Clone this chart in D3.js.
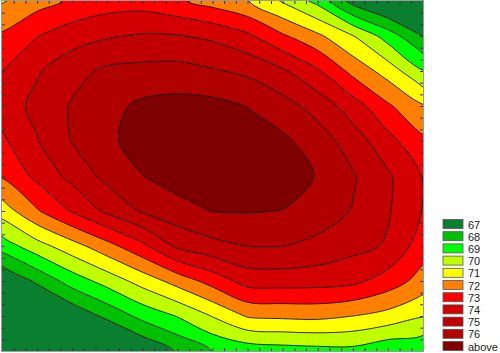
<!DOCTYPE html>
<html>
<head>
<meta charset="utf-8">
<script src="https://cdn.jsdelivr.net/npm/d3@7"></script>
<style>
body { margin: 0; background: #fff; }
svg { display: block; }
text { font-family: "Liberation Sans", Arial, sans-serif; font-size: 11px; fill: #222; }
</style>
</head>
<body>
<svg width="500" height="353"></svg>
<script>
// contour levels and legend
var levels = [67, 68, 69, 70, 71, 72, 73, 74, 75, 76];
var labels = ["67", "68", "69", "70", "71", "72", "73", "74", "75", "76", "above"];
var colors = ["#0a7f30", "#00c000", "#00ff00", "#c0ff00", "#ffff00", "#ff8000",
              "#ff0000", "#d20000", "#c00000", "#b10000", "#7f0000"];

// surface values, 13 columns x 11 rows (top row first)
var nx = 13, ny = 11;
var row0  = [70.9, 71.6, 72.15, 72.5, 72.55, 72.15, 71.6, 71.05, 69.9, 68.7, 66.6, 65.5, 64.5];
var row1  = [72.15, 72.97, 73.55, 73.9, 74.1, 74.07, 73.8, 73.2, 72.15, 71.2, 70.05, 68.55, 66.95];
var row2  = [72.98, 73.9, 74.65, 75.2, 75.3, 75.35, 75.1, 74.8, 74.15, 73.15, 71.7, 70.57, 69.05];
var row3  = [73.5, 74.25, 75.1, 75.7, 76.2, 76.35, 76.3, 75.97, 75.4, 74.6, 73.5, 72.15, 71.1];
var row4  = [72.8, 73.95, 75.05, 75.8, 76.4, 76.6, 76.65, 76.5, 76.2, 75.5, 74.5, 73.35, 72.2];
var row5  = [72.1, 73.25, 74.3, 75.3, 75.98, 76.45, 76.6, 76.55, 76.4, 75.95, 75.1, 74.15, 72.95];
var row6  = [70.45, 71.9, 73.1, 74.2, 75.1, 75.6, 76.02, 76.05, 75.98, 75.5, 74.95, 74.1, 72.95];
var row7  = [68.45, 69.6, 70.6, 71.65, 72.77, 74.2, 74.7, 75.02, 75.02, 74.75, 74.3, 73.9, 72.45];
var row8  = [65.9, 67.2, 68.45, 69.4, 70.4, 71.4, 72.4, 73.4, 73.45, 73.4, 73.25, 72.55, 71.6];
var row9  = [64.0, 65.0, 66.2, 67.25, 68.3, 69.05, 70.05, 71.1, 71.2, 71.25, 71.0, 70.65, 70.05];
var row10 = [61.5, 62.5, 63.75, 64.95, 66.05, 67.1, 68.02, 68.4, 68.55, 68.65, 68.7, 68.2, 68.15];
var grid = [row0, row1, row2, row3, row4, row5, row6, row7, row8, row9, row10];

var svg = d3.select("svg");
var plotL = 2, plotR = 423, plotT = 1, plotB = 351;

// grid sample i sits at contour coordinate i + 0.5
var x = d3.scaleLinear().domain([0.5, nx - 0.5]).range([plotL, plotR]);
var y = d3.scaleLinear().domain([0.5, ny - 0.5]).range([plotT, plotB]);

var contours = d3.contours().size([nx, ny]).thresholds(levels)(d3.merge(grid));

// rounded outline for each ring, holes keep their own winding
var ringLine = d3.line()
    .x(function(p) { return x(p[0]); })
    .y(function(p) { return y(p[1]); })
    .curve(d3.curveCatmullRomClosed.alpha(0.5));
function bandPath(d) {
  var s = "";
  d.coordinates.forEach(function(poly) {
    poly.forEach(function(ring) { s += ringLine(ring.slice(0, -1)); });
  });
  return s;
}

svg.append("clipPath").attr("id", "plot")
  .append("rect")
    .attr("x", plotL).attr("y", plotT)
    .attr("width", plotR - plotL).attr("height", plotB - plotT);

var g = svg.append("g").attr("clip-path", "url(#plot)");
g.append("rect")
    .attr("x", plotL).attr("y", plotT)
    .attr("width", plotR - plotL).attr("height", plotB - plotT)
    .attr("fill", colors[0]);

g.selectAll("path.band")
    .data(contours)
    .enter()
  .append("path")
    .attr("class", "band")
    .attr("d", bandPath)
    .attr("fill", function(d, i) { return colors[i + 1]; })
    .attr("stroke", "#141414")
    .attr("stroke-width", 0.9)
    .attr("stroke-linejoin", "round");

// small inward ticks on every side
var tx = d3.scaleLinear().domain([0, 36]).range([plotL, plotR]);
var ty = d3.scaleLinear().domain([0, 30]).range([plotT, plotB]);
function ticks(axis, tr) {
  var a = svg.append("g").attr("transform", tr).call(axis);
  a.select(".domain").remove();
  a.selectAll("line").attr("stroke", "#333");
}
ticks(d3.axisBottom(tx).tickValues(d3.range(1, 36)).tickSize(-3).tickFormat(""), "translate(0," + plotB + ")");
ticks(d3.axisTop(tx).tickValues(d3.range(1, 36)).tickSize(-3).tickFormat(""), "translate(0," + plotT + ")");
ticks(d3.axisLeft(ty).tickValues(d3.range(1, 30)).tickSize(-3).tickFormat(""), "translate(" + plotL + ",0)");
ticks(d3.axisRight(ty).tickValues(d3.range(1, 30)).tickSize(-3).tickFormat(""), "translate(" + plotR + ",0)");

svg.append("rect")
    .attr("x", plotL - 0.5).attr("y", plotT - 0.5)
    .attr("width", plotR - plotL + 1).attr("height", plotB - plotT + 1)
    .attr("fill", "none")
    .attr("stroke", "#9a9a9a");

// legend
var lg = svg.append("g").attr("class", "legend");
var item = lg.selectAll("g")
    .data(labels)
    .enter()
  .append("g")
    .attr("transform", function(d, i) { return "translate(443," + (219.5 + i * 12.2) + ")"; });
item.append("rect")
    .attr("width", 20).attr("height", 9)
    .attr("fill", function(d, i) { return colors[i]; })
    .attr("stroke", "#555")
    .attr("stroke-width", 0.8);
item.append("text")
    .attr("x", 25)
    .attr("y", 9)
    .text(function(d) { return d; });
</script>
</body>
</html>
